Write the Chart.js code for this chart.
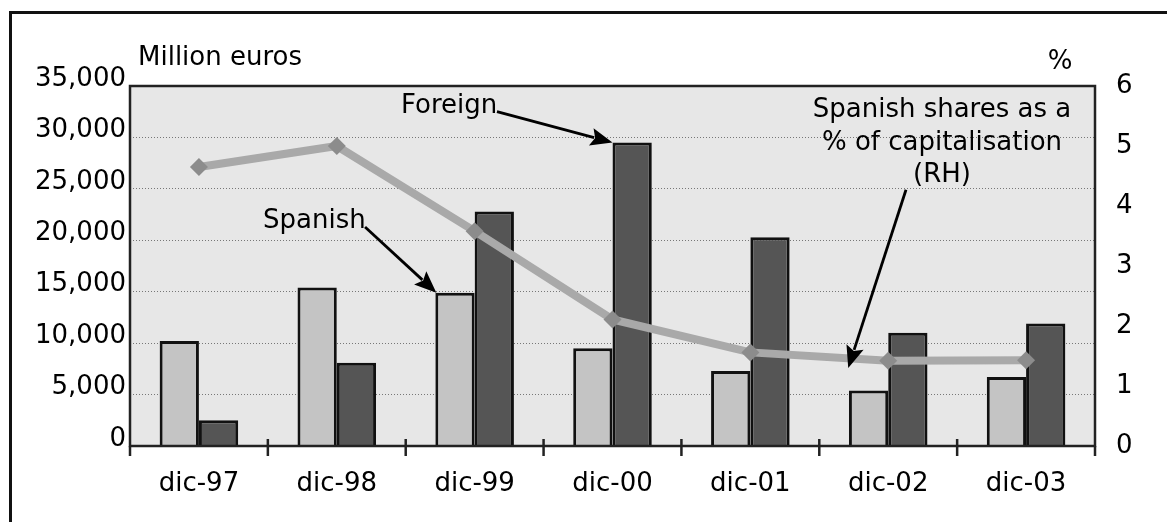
<!DOCTYPE html>
<html>
<head>
<meta charset="utf-8">
<script src="https://cdn.jsdelivr.net/npm/chart.js@4.4.1/dist/chart.umd.min.js"></script>
<style>
  html, body { margin:0; padding:0; background:#fff; overflow:hidden; width:1167px; height:522px; }
  #wrap { position:relative; width:1167px; height:522px; }
  #frame { position:absolute; left:9px; top:11px; width:2000px; height:2000px; border:3px solid #111; box-sizing:border-box; pointer-events:none; }
  canvas { position:absolute; left:0; top:0; }
</style>
</head>
<body>
<div id="wrap">
  <div id="frame"></div>
  <canvas id="c" width="1167" height="522"></canvas>
</div>
<script>
// ---- data ----
const categories = ['dic-97','dic-98','dic-99','dic-00','dic-01','dic-02','dic-03'];
const spanish = [10200, 15400, 14900, 9500, 7300, 5400, 6700];
const foreign = [2500, 8100, 22800, 29500, 20300, 11000, 11900];
const sharePct = [4.65, 5.0, 3.58, 2.11, 1.56, 1.42, 1.43];
const leftTickLabels = ['0','5,000','10,000','15,000','20,000','25,000','30,000','35,000'];
const rightTickLabels = ['0','1','2','3','4','5','6'];
const leftTitle = 'Million euros';
const rightTitle = '%';
const labelForeign = 'Foreign';
const labelSpanish = 'Spanish';
const labelShare = ['Spanish shares as a', '% of capitalisation', '(RH)'];

const FONT = '"DejaVu Sans", Verdana, sans-serif';
const FS = 26;

const bgPlugin = {
  id: 'bg',
  beforeDraw(chart) {
    const {ctx, chartArea: a} = chart;
    ctx.save();
    ctx.fillStyle = '#e7e7e7';
    ctx.fillRect(a.left, a.top, a.right - a.left, a.bottom - a.top);
    ctx.restore();
  }
};

function arrow(ctx, x0, y0, x1, y1) {
  const ang = Math.atan2(y1 - y0, x1 - x0);
  const L = 22, W = 9;
  const bx = x1 - L * Math.cos(ang), by = y1 - L * Math.sin(ang);
  ctx.beginPath();
  ctx.moveTo(x0, y0);
  ctx.lineTo(bx + 3 * Math.cos(ang), by + 3 * Math.sin(ang));
  ctx.stroke();
  ctx.beginPath();
  ctx.moveTo(x1, y1);
  ctx.lineTo(bx + W * Math.sin(ang), by - W * Math.cos(ang));
  ctx.lineTo(bx + 4 * Math.cos(ang), by + 4 * Math.sin(ang));
  ctx.lineTo(bx - W * Math.sin(ang), by + W * Math.cos(ang));
  ctx.closePath();
  ctx.fill();
}

const framePlugin = {
  id: 'frame',
  afterDatasetsDraw(chart) {
    const {ctx, chartArea: a, scales} = chart;
    ctx.save();
    ctx.strokeStyle = '#222';
    ctx.lineWidth = 2.5;
    ctx.strokeRect(a.left, a.top, a.right - a.left, a.bottom - a.top);
    // category boundary ticks
    for (let i = 0; i <= categories.length; i++) {
      const x = scales.x.getPixelForValue(i - 0.5);
      const inner = (i === 0 || i === categories.length) ? 0 : 7;
      ctx.beginPath();
      ctx.moveTo(x, a.bottom - inner);
      ctx.lineTo(x, a.bottom + 10);
      ctx.stroke();
    }
    ctx.restore();
  },
  afterDraw(chart) {
    const {ctx, chartArea: a, scales} = chart;
    const x = scales.x, y = scales.y, y1 = scales.y1;
    ctx.save();
    ctx.fillStyle = '#000';
    ctx.strokeStyle = '#000';
    ctx.font = FS + 'px ' + FONT;
    ctx.textBaseline = 'alphabetic';
    // axis titles
    ctx.textAlign = 'left';
    ctx.fillText(leftTitle, a.left + 8, a.top - 21);
    ctx.textAlign = 'center';
    ctx.fillText(rightTitle, a.right - 35, a.top - 17);

    // Foreign annotation
    ctx.textAlign = 'left';
    ctx.fillText(labelForeign, x.getPixelForValue(1.466), y.getPixelForValue(32400));
    const mF = chart.getDatasetMeta(1).data[3];
    ctx.lineWidth = 2.8;
    arrow(ctx, x.getPixelForValue(2.162), y.getPixelForValue(32500), mF.x - mF.width / 2, mF.y);

    // Spanish annotation
    ctx.fillText(labelSpanish, x.getPixelForValue(0.465), y.getPixelForValue(21200));
    const mS = chart.getDatasetMeta(0).data[2];
    arrow(ctx, x.getPixelForValue(1.205), y.getPixelForValue(21300), mS.x - mS.width / 2 + 1, mS.y);

    // share annotation
    ctx.textAlign = 'center';
    const cx = x.getPixelForValue(5.39);
    const by = y1.getPixelForValue(5.48);
    labelShare.forEach((t, i) => ctx.fillText(t, cx, by + i * 32.5));
    arrow(ctx, x.getPixelForValue(5.129), y1.getPixelForValue(4.27), x.getPixelForValue(4.71), y1.getPixelForValue(1.3));
    ctx.restore();
  }
};

new Chart(document.getElementById('c'), {
  type: 'bar',
  data: {
    labels: categories,
    datasets: [
      { label: 'Spanish', data: spanish, yAxisID: 'y', backgroundColor: '#c4c4c4', borderColor: '#111', borderWidth: 3, order: 2,
        categoryPercentage: 0.57, barPercentage: 1.0 },
      { label: 'Foreign', data: foreign, yAxisID: 'y', backgroundColor: '#555555', borderColor: '#111', borderWidth: 3, order: 2,
        categoryPercentage: 0.57, barPercentage: 1.0 },
      { type: 'line', label: 'Share', data: sharePct, yAxisID: 'y1', borderColor: '#a9a9a9', borderWidth: 8, tension: 0,
        pointStyle: 'rectRot', pointRadius: 9, pointBackgroundColor: '#8c8c8c', pointBorderColor: '#8c8c8c', pointBorderWidth: 0,
        order: 1, fill: false }
    ]
  },
  options: {
    responsive: false,
    animation: false,
    devicePixelRatio: 1,
    events: [],
    layout: { padding: { top: 86, left: 0, right: 0, bottom: 0 } },
    plugins: { legend: { display: false }, tooltip: { enabled: false } },
    scales: {
      x: {
        grid: { display: false, drawTicks: false },
        border: { display: false },
        ticks: { color: '#000', font: { family: FONT, size: FS }, padding: 23, maxRotation: 0 },
        afterFit(s) { s.height = 76; }
      },
      y: {
        position: 'left', min: 0, max: 35000,
        grid: { drawTicks: false, color: (c) => (c.tick.value === 0 || c.tick.value === 35000) ? 'rgba(0,0,0,0)' : '#777', lineWidth: 1 },
        border: { display: false, dash: [1, 2] },
        ticks: { stepSize: 5000, color: '#000', font: { family: FONT, size: FS }, padding: 4, labelOffset: -7,
          callback: (v, i) => leftTickLabels[i] },
        afterFit(s) { s.width = 130; }
      },
      y1: {
        position: 'right', min: 0, max: 6,
        grid: { drawOnChartArea: false, drawTicks: false },
        border: { display: false },
        ticks: { stepSize: 1, color: '#000', font: { family: FONT, size: FS }, padding: 21, labelOffset: 0,
          callback: (v, i) => rightTickLabels[i] },
        afterFit(s) { s.width = 72; }
      }
    }
  },
  plugins: [bgPlugin, framePlugin]
});
</script>
</body>
</html>
